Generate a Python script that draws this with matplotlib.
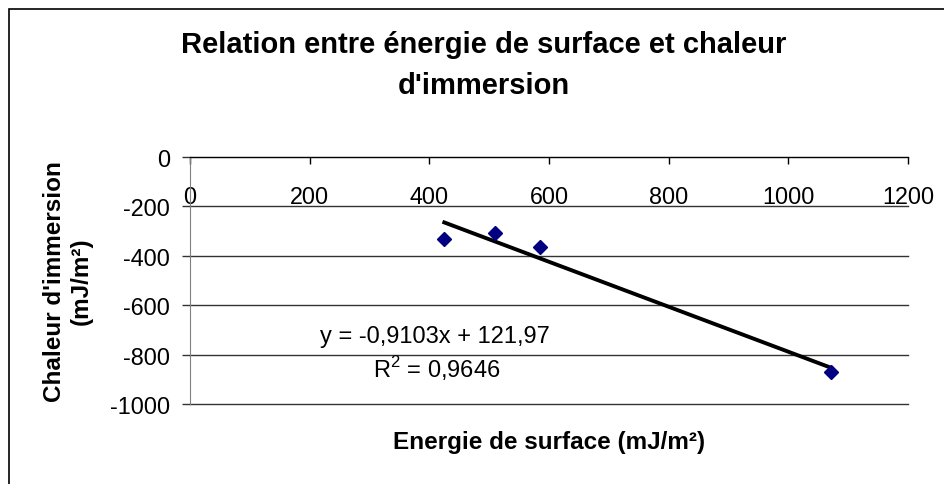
import numpy as np
import matplotlib
matplotlib.use("Agg")
import matplotlib.pyplot as plt
from matplotlib.patches import Rectangle

plt.rcParams['font.family'] = ['Liberation Sans', 'DejaVu Sans']
plt.rcParams['axes.unicode_minus'] = False
plt.rcParams['mathtext.fontset'] = 'custom'
plt.rcParams['mathtext.rm'] = 'Liberation Sans'

# data
energie = [425, 509, 585, 1071]          # mJ/m²
chaleur = [-332, -309, -366, -872]       # mJ/m²
pente = -0.9103
ordonnee = 121.97
eq_texte = "y = -0,9103x + 121,97"
r2_texte = "R$^2$ = 0,9646"

x_ticks = [0, 200, 400, 600, 800, 1000, 1200]
y_ticks = [-1000, -800, -600, -400, -200, 0]

fig = plt.figure(figsize=(9.44, 4.85), dpi=100)
ax = fig.add_axes([190/944, 80/485, 718/944, 247/485])

# trend line over the data range
xs = np.array([min(energie), max(energie)])
ax.plot(xs, pente*xs + ordonnee, color='black', lw=2.8, zorder=3)
ax.plot(energie, chaleur, linestyle='none', marker='D', ms=7.6,
        color='#000080', zorder=4)

ax.set_xlim(0, 1200)
ax.set_ylim(-1000, 0)
ax.set_xticks(x_ticks)
ax.set_yticks(y_ticks)

# x axis sits on y = 0 (top of the plot)
ax.spines['bottom'].set_position(('data', 0))
ax.spines['bottom'].set_color('black')
ax.spines['top'].set_visible(False)
ax.spines['right'].set_visible(False)
ax.spines['left'].set_color('#808080')

ax.tick_params(axis='x', direction='out', length=5, width=1, pad=15.5,
               labelsize=16.8, color='black')
ax.tick_params(axis='y', direction='out', length=5.8, width=1, pad=8.6,
               labelsize=16.8, color='#333333')
ax.yaxis.grid(True, color='#333333', lw=1)
for gl in ax.yaxis.get_gridlines():
    gl.set_clip_on(False)
ax.set_axisbelow(True)

# trendline label
ax.text(410, -749, eq_texte, ha='center', va='baseline', fontsize=17)
ax.text(412, -891, r2_texte, ha='center', va='baseline', fontsize=17)

ax.set_ylabel("Chaleur d'immersion\n(mJ/m²)", fontsize=17.5, fontweight='bold')
ax.yaxis.set_label_coords(-0.135, 0.5)
ax.set_xlabel("Energie de surface (mJ/m²)", fontsize=17.5, fontweight='bold')
ax.xaxis.set_label_coords(0.5, -0.105)

fig.text(484/944, 1 - 31/485, "Relation entre énergie de surface et chaleur\nd'immersion",
         ha='center', va='top', fontsize=21, fontweight='bold',
         multialignment='center', linespacing=1.6)

# chart frame
fig.patches.append(Rectangle((9/944, -0.1), 1.2, 1.1 - 10/485, transform=fig.transFigure,
                             fill=False, edgecolor='black', lw=1.2))

fig.savefig("out.png", dpi=100)
